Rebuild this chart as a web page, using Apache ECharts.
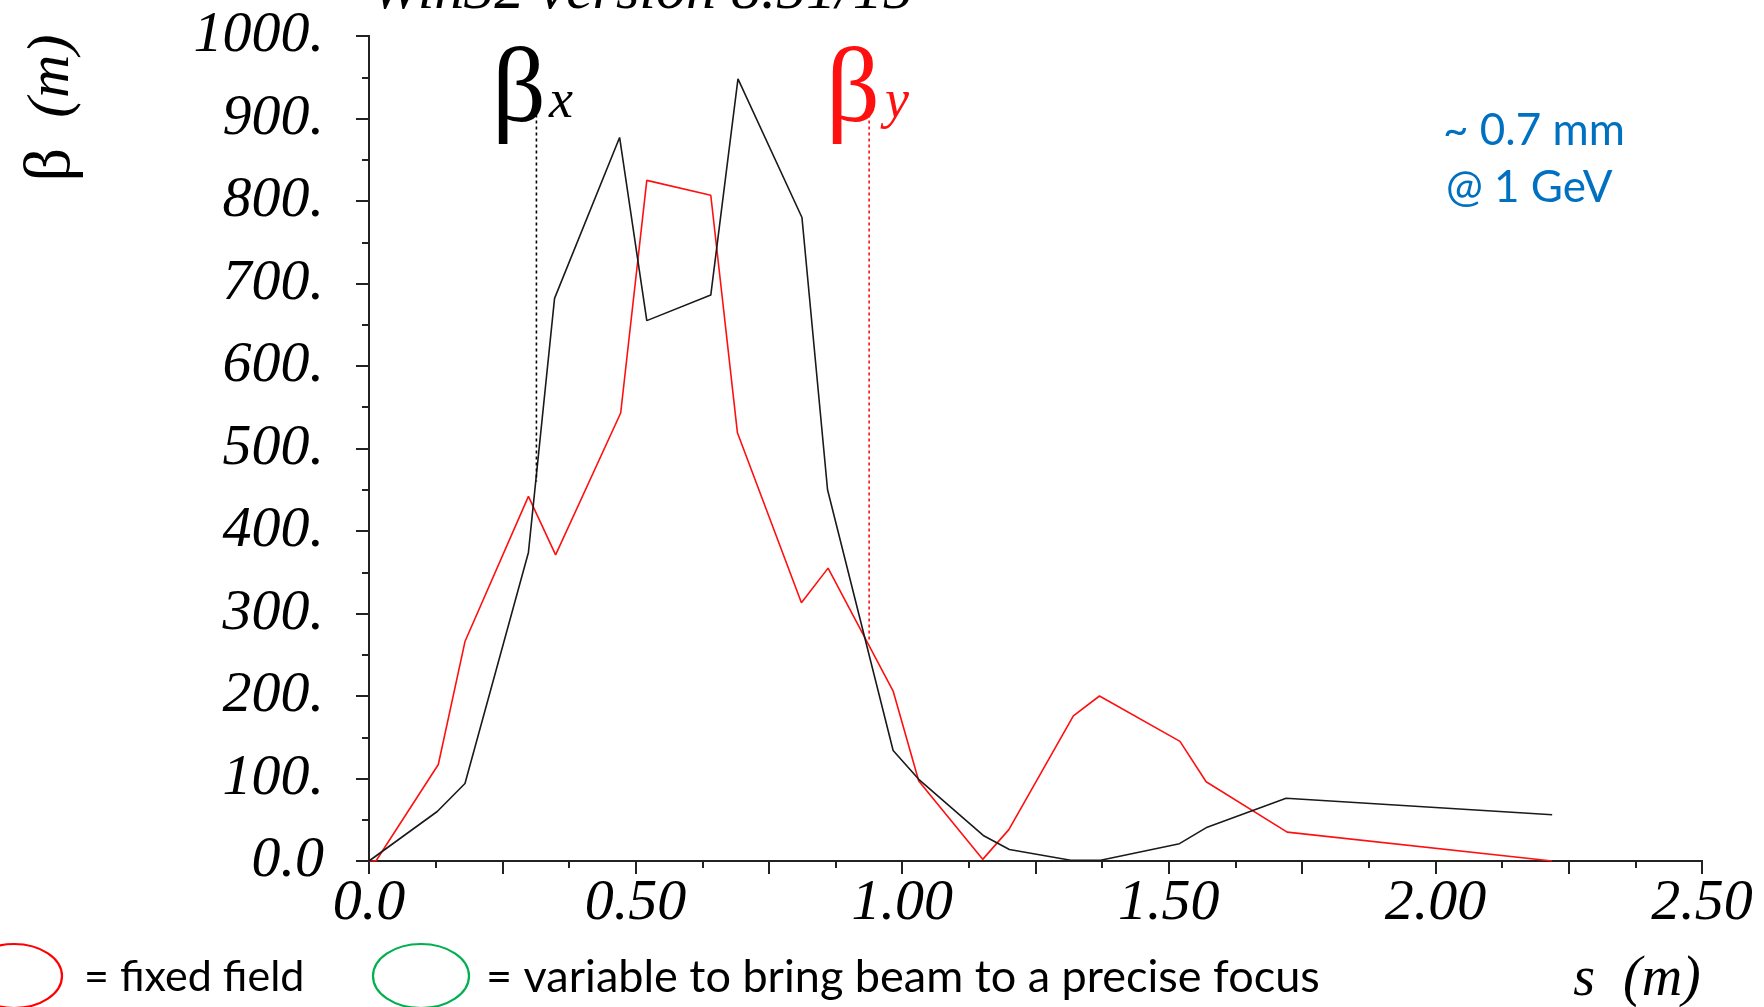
<!DOCTYPE html>
<html>
<head>
<meta charset="utf-8">
<title>beta functions</title>
<script src="https://cdn.jsdelivr.net/npm/echarts@6/dist/echarts.min.js"></script>
<style>
    html, body { margin: 0; padding: 0; background: #fff; }
    #chart { width: 1764px; height: 1007px; }
</style>
</head>
<body>
<div id="chart"></div>
<script>
// beta_x (black curve), s in m, beta in m
var sX = [0, 0.128, 0.180, 0.299, 0.348, 0.470, 0.521, 0.641, 0.692, 0.812, 0.860, 0.983, 1.031, 1.152, 1.201, 1.316, 1.372, 1.520, 1.572, 1.720, 2.219];
var betaX = [0, 60, 94, 374, 682, 877, 655, 686, 948, 780, 450, 134, 99, 31, 14, 1, 1, 21, 41, 76, 56];

// beta_y (red curve)
var sY = [0, 0.013, 0.130, 0.180, 0.299, 0.350, 0.472, 0.521, 0.641, 0.691, 0.811, 0.861, 0.983, 1.031, 1.151, 1.200, 1.321, 1.370, 1.521, 1.570, 1.722, 2.219];
var betaY = [0, 0, 117, 266, 442, 371, 543, 825, 807, 519, 313, 355, 206, 97, 2, 38, 176, 200, 145, 96, 35, 0];

// dotted drop lines under the labels: first = beta_x, second = beta_y
var markS = [0.314, 0.938];
var markTop = [905, 905];
var markBottom = [460, 265];

// tick labels
var xTickValues = [0, 0.5, 1, 1.5, 2, 2.5];
var xTickLabels = ['0.0', '0.50', '1.00', '1.50', '2.00', '2.50'];
var yTickLabels = ['0.0', '100.', '200.', '300.', '400.', '500.', '600.', '700.', '800.', '900.', '1000.'];

var SERIF = "'Liberation Serif', 'DejaVu Serif', serif";
var SANS = "Lato, 'Open Sans', sans-serif";

function pairs(xs, ys) {
    return xs.map(function (x, i) { return [x, ys[i]]; });
}

var labelFont = {
    fontFamily: SERIF,
    fontStyle: 'italic',
    fontSize: 58,
    color: '#000'
};

var axisLine = { show: true, lineStyle: { color: '#222', width: 2 } };

var chart = echarts.init(document.getElementById('chart'));

var option = {
    backgroundColor: '#fff',
    animation: false,
    grid: { left: 369, top: 36, width: 1333, height: 825, containLabel: false },
    xAxis: [{
        type: 'value',
        position: 'bottom',
        min: 0,
        max: 2.5,
        interval: 0.25,
        axisLine: axisLine,
        axisTick: { show: true, length: 13, lineStyle: { color: '#222', width: 2 } },
        minorTick: { show: true, splitNumber: 2, length: 7, lineStyle: { color: '#222', width: 2 } },
        splitLine: { show: false },
        axisLabel: Object.assign({
            margin: 14,
            interval: 0,
            hideOverlap: false,
            showMinLabel: true,
            showMaxLabel: true,
            formatter: function (v) {
                for (var i = 0; i < xTickValues.length; i++) {
                    if (Math.abs(v - xTickValues[i]) < 1e-6) return xTickLabels[i];
                }
                return '';
            }
        }, labelFont)
    }, {
        type: 'value',
        position: 'top',
        min: 0,
        max: 2.5,
        interval: 0.25,
        axisLine: axisLine,
        axisTick: { show: true, inside: true, length: 13, lineStyle: { color: '#222', width: 2 } },
        minorTick: { show: true, splitNumber: 2, length: 7, lineStyle: { color: '#222', width: 2 } },
        splitLine: { show: false },
        axisLabel: { show: false }
    }],
    yAxis: [{
        type: 'value',
        position: 'left',
        min: 0,
        max: 1000,
        interval: 100,
        axisLine: axisLine,
        axisTick: { show: true, length: 13, lineStyle: { color: '#222', width: 2 } },
        minorTick: { show: true, splitNumber: 2, length: 7, lineStyle: { color: '#222', width: 2 } },
        splitLine: { show: false },
        axisLabel: Object.assign({
            margin: 45,
            showMinLabel: true,
            showMaxLabel: true,
            formatter: function (v) { return yTickLabels[Math.round(v / 100)]; }
        }, labelFont)
    }, {
        type: 'value',
        position: 'right',
        min: 0,
        max: 1000,
        axisLine: axisLine,
        axisTick: { show: false },
        splitLine: { show: false },
        axisLabel: { show: false }
    }],
    series: [{
        name: 'beta x',
        type: 'line',
        data: pairs(sX, betaX),
        symbol: 'none',
        lineStyle: { color: '#1a1a1a', width: 1.6 },
        z: 3
    }, {
        name: 'beta y',
        type: 'line',
        data: pairs(sY, betaY),
        symbol: 'none',
        lineStyle: { color: '#ff1010', width: 1.6 },
        z: 2
    }, {
        name: 'beta x mark',
        type: 'line',
        data: [[markS[0], markTop[0]], [markS[0], markBottom[0]]],
        symbol: 'none',
        lineStyle: { color: '#000', width: 1.6, type: [3, 3] }
    }, {
        name: 'beta y mark',
        type: 'line',
        data: [[markS[1], markTop[1]], [markS[1], markBottom[1]]],
        symbol: 'none',
        lineStyle: { color: '#ff1010', width: 1.6, type: [3, 3] }
    }],
    graphic: [
        // program banner, cut off by the top edge
        { type: 'text', x: 371, y: -8, style: { text: 'Win32 version 8.51/15', fontFamily: SERIF, fontStyle: 'italic', fontSize: 60, fill: '#000', align: 'left', verticalAlign: 'middle' } },
        // beta labels
        { type: 'text', x: 492, y: 93, style: { text: 'β', fontFamily: SERIF, fontSize: 106, fill: '#000', align: 'left', verticalAlign: 'middle' } },
        { type: 'text', x: 549, y: 103, style: { text: 'x', fontFamily: SERIF, fontStyle: 'italic', fontSize: 54, fill: '#000', align: 'left', verticalAlign: 'middle' } },
        { type: 'text', x: 826, y: 93, style: { text: 'β', fontFamily: SERIF, fontSize: 106, fill: '#ff1010', align: 'left', verticalAlign: 'middle' } },
        { type: 'text', x: 885, y: 103, style: { text: 'y', fontFamily: SERIF, fontStyle: 'italic', fontSize: 54, fill: '#ff1010', align: 'left', verticalAlign: 'middle' } },
        // y axis name
        {
            type: 'text', x: 52, y: 108, rotation: Math.PI / 2,
            style: {
                text: '{b|β}{m|  (m)}', align: 'center', verticalAlign: 'middle',
                rich: {
                    b: { fontFamily: SERIF, fontSize: 66, fill: '#000' },
                    m: { fontFamily: SERIF, fontStyle: 'italic', fontSize: 60, fill: '#000' }
                }
            }
        },
        // x axis name
        { type: 'text', x: 1637, y: 980, style: { text: 's  (m)', fontFamily: SERIF, fontStyle: 'italic', fontSize: 56, fill: '#000', align: 'center', verticalAlign: 'middle' } },
        // beam size note
        { type: 'text', x: 1443, y: 131, style: { text: '~ 0.7 mm', fontFamily: SANS, fontSize: 44, fill: '#0070c0', align: 'left', verticalAlign: 'middle' } },
        { type: 'text', x: 1446, y: 188, style: { text: '@ 1 GeV', fontFamily: SANS, fontSize: 44, fill: '#0070c0', align: 'left', verticalAlign: 'middle' } },
        // magnet key
        { type: 'ellipse', shape: { cx: 14, cy: 976, rx: 48, ry: 32 }, style: { fill: 'none', stroke: '#ff0000', lineWidth: 2.2 } },
        { type: 'text', x: 84, y: 977, style: { text: '= fixed field', fontFamily: SANS, fontSize: 43, fill: '#000', align: 'left', verticalAlign: 'middle' } },
        { type: 'ellipse', shape: { cx: 421, cy: 976, rx: 48, ry: 32 }, style: { fill: 'none', stroke: '#00b050', lineWidth: 2.2 } },
        { type: 'text', x: 486, y: 977, style: { text: '= variable to bring beam to a precise focus', fontFamily: SANS, fontSize: 45, fill: '#000', align: 'left', verticalAlign: 'middle' } }
    ]
};

chart.setOption(option);
</script>
</body>
</html>
